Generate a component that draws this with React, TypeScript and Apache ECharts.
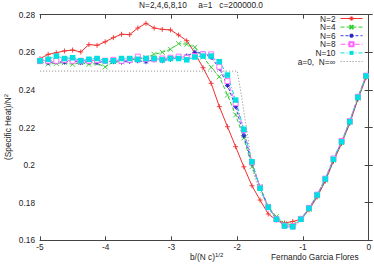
import React, { useEffect, useRef } from "react";
import * as echarts from "echarts";

const xs = [-5.0, -4.876, -4.752, -4.628, -4.504, -4.38, -4.256, -4.132, -4.008, -3.884, -3.76, -3.636, -3.512, -3.388, -3.264, -3.14, -3.016, -2.892, -2.768, -2.644, -2.52, -2.396, -2.272, -2.148, -2.024, -1.9, -1.776, -1.652, -1.528, -1.404, -1.28, -1.156, -1.032, -0.908, -0.784, -0.66, -0.536, -0.412, -0.288, -0.164, -0.04];

const n2 = [0.2566, 0.2589, 0.2598, 0.2607, 0.2612, 0.2602, 0.2641, 0.2637, 0.2656, 0.2678, 0.2696, 0.2694, 0.2729, 0.2754, 0.2729, 0.2722, 0.2719, 0.2692, 0.2662, 0.2596, 0.2518, 0.2435, 0.2311, 0.2204, 0.2098, 0.1991, 0.1890, 0.1814, 0.1740, 0.1708, 0.1692, 0.1700, 0.1712, 0.1762, 0.1830, 0.1915, 0.2020, 0.2115, 0.2222, 0.2350, 0.2465];
const n4 = [0.2550, 0.2538, 0.2541, 0.2545, 0.2536, 0.2545, 0.2536, 0.2541, 0.2522, 0.2550, 0.2550, 0.2559, 0.2565, 0.2571, 0.2589, 0.2600, 0.2616, 0.2646, 0.2643, 0.2627, 0.2575, 0.2520, 0.2470, 0.2373, 0.2267, 0.2144, 0.1991, 0.1885, 0.1779, 0.1726, 0.1690, 0.1682, 0.1712, 0.1765, 0.1836, 0.1920, 0.2026, 0.2120, 0.2228, 0.2356, 0.2470];
const n6 = [0.2550, 0.2545, 0.2550, 0.2548, 0.2554, 0.2545, 0.2550, 0.2545, 0.2552, 0.2550, 0.2548, 0.2552, 0.2555, 0.2550, 0.2560, 0.2555, 0.2563, 0.2571, 0.2580, 0.2600, 0.2594, 0.2573, 0.2515, 0.2424, 0.2311, 0.2156, 0.2010, 0.1880, 0.1776, 0.1712, 0.1678, 0.1672, 0.1710, 0.1768, 0.1838, 0.1922, 0.2028, 0.2122, 0.2229, 0.2358, 0.2472];
const n8 = [0.2555, 0.2555, 0.2555, 0.2560, 0.2555, 0.2555, 0.2555, 0.2558, 0.2555, 0.2560, 0.2555, 0.2560, 0.2577, 0.2565, 0.2563, 0.2567, 0.2571, 0.2577, 0.2571, 0.2580, 0.2589, 0.2589, 0.2523, 0.2447, 0.2329, 0.2187, 0.2015, 0.1880, 0.1776, 0.1712, 0.1678, 0.1674, 0.1714, 0.1772, 0.1843, 0.1928, 0.2035, 0.2128, 0.2234, 0.2363, 0.2476];
const n10 = [0.2555, 0.2563, 0.2580, 0.2567, 0.2571, 0.2555, 0.2563, 0.2567, 0.2555, 0.2555, 0.2567, 0.2567, 0.2563, 0.2567, 0.2567, 0.2560, 0.2567, 0.2567, 0.2560, 0.2575, 0.2580, 0.2580, 0.2550, 0.2479, 0.2346, 0.2190, 0.2018, 0.1877, 0.1776, 0.1712, 0.1676, 0.1672, 0.1712, 0.1770, 0.1841, 0.1926, 0.2031, 0.2124, 0.2231, 0.2361, 0.2474];

const infX = [-5.0, -2.0, -1.976, -1.937, -1.886, -1.846, -1.81, -1.76, -1.685, -1.55, -1.4, -1.3, -1.2, -1.1, -1.0, -0.8, -0.6, -0.4, -0.2, 0.0];
const infY = [0.25, 0.25, 0.2453, 0.2373, 0.2257, 0.2169, 0.2080, 0.1965, 0.1885, 0.1790, 0.1715, 0.1677, 0.1667, 0.1680, 0.1718, 0.1825, 0.1977, 0.2133, 0.2320, 0.2510];

const names = ["N=2", "N=4", "N=6", "N=8", "N=10", "a=0,  N=\u221e"];
const xTicks = { min: -5, max: 0, step: 1 };
const yTicks = { min: 0.16, max: 0.28, step: 0.02 };

const FONT = "'Liberation Sans', Arial, sans-serif";
const FS = 8.3;

export default function App() {
  const ref = useRef<HTMLDivElement>(null);
  useEffect(() => {
    if (!ref.current) return;
    const chart = echarts.init(ref.current, null, { renderer: "svg" });
    const pair = (vals: number[]) => xs.map((x, i) => [x, vals[i]]);
    const mk = (
      name: string,
      vals: number[],
      color: string,
      type: any,
      symbol: string,
      size: number,
      itemStyle: any
    ) => ({
      type: "line",
      name,
      data: pair(vals),
      symbol,
      symbolSize: size,
      showSymbol: true,
      lineStyle: { color, width: 1, type },
      itemStyle,
      emphasis: { disabled: true },
    });
    const axisLine = { show: true, lineStyle: { color: "#444", width: 1 } };
    const tick = { show: true, inside: true, length: 4, lineStyle: { color: "#444" } };
    chart.setOption({
      animation: false,
      grid: { left: 40, right: 2.5, top: 14.7, bottom: 24.7 },
      xAxis: [
        {
          type: "value",
          min: xTicks.min,
          max: xTicks.max,
          interval: xTicks.step,
          axisLine,
          axisTick: tick,
          splitLine: { show: false },
          axisLabel: { fontSize: FS, fontFamily: FONT, color: "#222", margin: 3 },
        },
        {
          type: "value",
          position: "top",
          min: xTicks.min,
          max: xTicks.max,
          interval: xTicks.step,
          axisLine,
          axisTick: tick,
          splitLine: { show: false },
          axisLabel: { show: false },
        },
      ],
      yAxis: [
        {
          type: "value",
          min: yTicks.min,
          max: yTicks.max,
          interval: yTicks.step,
          axisLine,
          axisTick: tick,
          splitLine: { show: false },
          axisLabel: { fontSize: FS, fontFamily: FONT, color: "#222", margin: 5 },
        },
        {
          type: "value",
          position: "right",
          min: yTicks.min,
          max: yTicks.max,
          interval: yTicks.step,
          axisLine,
          axisTick: tick,
          splitLine: { show: false },
          axisLabel: { show: false },
        },
      ],
      legend: {
        data: [
          ...names.slice(0, 5),
          { name: names[5], itemStyle: { opacity: 0 } },
        ],
        orient: "vertical",
        right: 11,
        top: 14.5,
        align: "right",
        itemWidth: 22,
        itemHeight: 5,
        itemGap: 0.6,
        padding: 0,
        lineStyle: { width: 1 },
        textStyle: { fontSize: FS, fontFamily: FONT, color: "#222", lineHeight: 7.5 },
      },
      series: [
        mk("N=2", n2, "#f03030", "solid", "path://M0,5L10,5M5,0L5,10", 5, {
          color: "#f03030",
          borderColor: "#f03030",
          borderWidth: 0.9,
        }),
        mk("N=4", n4, "#33cc33", [4, 2], "path://M0,0L10,10M0,10L10,0", 5, {
          color: "#33cc33",
          borderColor: "#33cc33",
          borderWidth: 0.9,
        }),
        mk(
          "N=6",
          n6,
          "#3a3aee",
          [3, 2],
          "path://M0,5L10,5M5,0L5,10M1.5,1.5L8.5,8.5M1.5,8.5L8.5,1.5",
          5,
          { color: "#2424c8", borderColor: "#2424c8", borderWidth: 1 }
        ),
        mk("N=8", n8, "#ff60ff", [5, 2], "rect", 5, {
          color: "#ffffff",
          borderColor: "#ff60ff",
          borderWidth: 0.9,
        }),
        mk("N=10", n10, "#00dede", [4, 2, 1, 2], "rect", 5.5, {
          color: "#00e0e0",
          borderColor: "#00e0e0",
          borderWidth: 0,
        }),
        {
          type: "line",
          name: names[5],
          data: infX.map((x, i) => [x, infY[i]]),
          symbol: "none",
          showSymbol: false,
          lineStyle: { color: "#9a9a9a", width: 1, type: [1.2, 1.8] },
          itemStyle: { color: "#9a9a9a" },
          emphasis: { disabled: true },
        },
      ],
      graphic: [
        {
          type: "text",
          x: 201,
          y: 4.5,
          style: {
            text: "N=2,4,6,8,10     a=1   c=200000.0",
            align: "center",
            verticalAlign: "middle",
            fontSize: FS,
            fontFamily: FONT,
            fill: "#222",
          },
        },
        {
          type: "text",
          x: 8,
          y: 127,
          rotation: Math.PI / 2,
          style: {
            text: "(Specific Heat)/N{s|2}",
            align: "center",
            verticalAlign: "middle",
            fontSize: FS,
            fontFamily: FONT,
            fill: "#222",
            rich: { s: { fontSize: 6, fontFamily: FONT, fill: "#222", verticalAlign: "top", padding: [0, 0, 4, 0] } },
          },
        },
        {
          type: "text",
          x: 190,
          y: 257,
          style: {
            text: "b/(N c){s|1/2}",
            align: "left",
            verticalAlign: "middle",
            fontSize: FS,
            fontFamily: FONT,
            fill: "#222",
            rich: { s: { fontSize: 6, fontFamily: FONT, fill: "#222", padding: [0, 0, 5, 0] } },
          },
        },
        {
          type: "text",
          x: 271,
          y: 257,
          style: {
            text: "Fernando Garcia Flores",
            align: "left",
            verticalAlign: "middle",
            fontSize: FS,
            fontFamily: FONT,
            fill: "#222",
          },
        },
      ],
    });
    return () => chart.dispose();
  }, []);
  return (
    <div
      ref={ref}
      style={{ position: "absolute", left: 0, top: 0, width: 374, height: 265, background: "#fff" }}
    />
  );
}
